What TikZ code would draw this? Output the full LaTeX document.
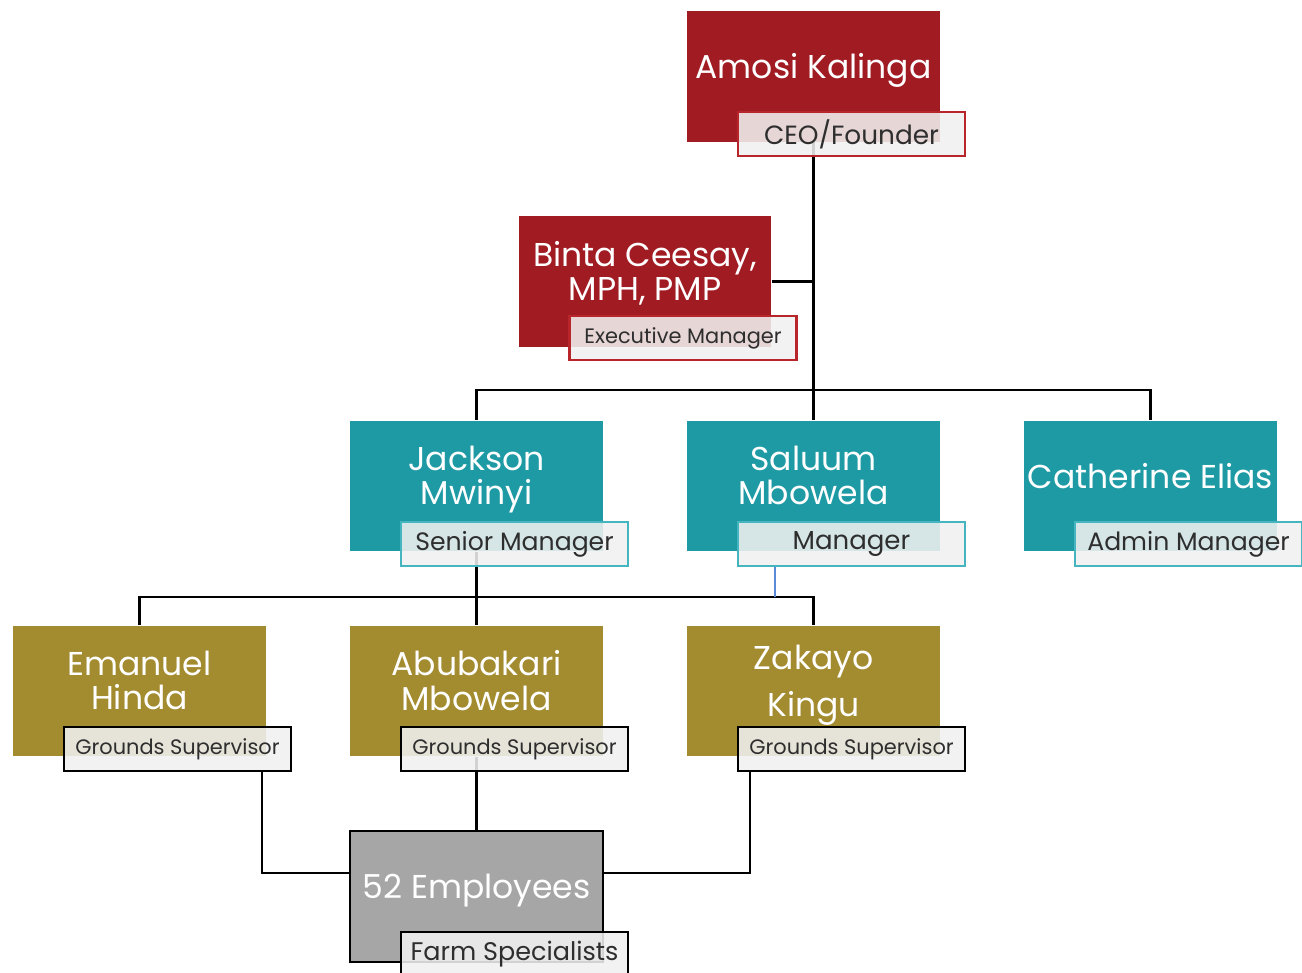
\documentclass[tikz,border=0pt]{standalone}
\usepackage{fontspec}
\setmainfont{Poppins}
\usetikzlibrary{backgrounds}

\definecolor{execred}{HTML}{A11B22}
\definecolor{execline}{HTML}{B8262C}
\definecolor{mgrteal}{HTML}{1E9AA5}
\definecolor{mgrline}{HTML}{45B6BF}
\definecolor{superolive}{HTML}{A38B2F}
\definecolor{staffgray}{HTML}{A6A6A6}
\definecolor{rolefill}{HTML}{F0F0F0}
\definecolor{roletext}{HTML}{2E2E2E}
\definecolor{tapblue}{HTML}{5B8BD6}

\tikzstyle{person} = [rectangle, minimum width=5.06cm, minimum height=2.62cm,
  inner sep=0pt, text=white, align=center, text depth=0.42cm,
  font=\fontsize{18.8}{19.5}\selectfont]
\tikzstyle{exec} = [person, fill=execred]
\tikzstyle{mgr} = [person, fill=mgrteal]
\tikzstyle{super} = [person, fill=superolive]
\tikzstyle{staff} = [person, fill=staffgray, draw=black, line width=1.2pt]
\tikzstyle{role} = [rectangle, minimum width=4.54cm, minimum height=0.88cm,
  inner sep=0pt, fill=rolefill, fill opacity=0.88, text opacity=1,
  text=roletext, line width=1.2pt, font=\fontsize{11.9}{14}\selectfont]
\tikzstyle{bigrole} = [role, font=\fontsize{14.3}{16}\selectfont]
\tikzstyle{execrole} = [role, draw=execline]
\tikzstyle{mgrrole} = [bigrole, draw=mgrline]
\tikzstyle{superrole} = [role, draw=black]

\tikzstyle{link} = [draw=black, line width=1.2pt]

\begin{document}
\begin{tikzpicture}[x=0.02cm, y=-0.02cm]
        \useasboundingbox (0,0) rectangle (1302,973);

        \node [exec]      (amosi)         at (813.5, 76.5) {Amosi Kalinga};
        \node [execrole, font=\fontsize{15}{17}\selectfont]
                          (amosirole)     at (851.5,134)   {CEO/Founder};
        \node [exec]      (binta)         at (645,281.5)   {Binta Ceesay,\\MPH, PMP};
        \node [execrole]  (bintarole)     at (683,338)     {Executive Manager};

        \node [mgr]       (jackson)       at (476.5,486)   {Jackson\\Mwinyi};
        \node [mgrrole]   (jacksonrole)   at (514.5,544)   {Senior Manager};
        \node [mgr]       (saluum)        at (813.5,486)   {Saluum\\Mbowela};
        \node [mgrrole, font=\fontsize{14.8}{16}\selectfont]
                          (saluumrole)    at (851.5,544)   {Manager};
        \node [mgr]       (catherine)     at (1150.5,486)  {Catherine Elias};
        \node [mgrrole]   (catherinerole) at (1188.5,544)  {Admin Manager};

        \node [super]     (emanuel)       at (139.5,691)   {Emanuel\\Hinda};
        \node [superrole] (emanuelrole)   at (177.5,749)   {Grounds Supervisor};
        \node [super]     (abubakari)     at (476.5,691)   {Abubakari\\Mbowela};
        \node [superrole] (abubakarirole) at (514.5,749)   {Grounds Supervisor};
        \node [super]     (zakayo)        at (813.5,691)   {Zakayo\\[0.26cm]Kingu};
        \node [superrole] (zakayorole)    at (851.5,749)   {Grounds Supervisor};

        \node [staff]     (staff)         at (476.5,896.5) {52 Employees};
        \node [superrole, font=\fontsize{14.5}{16}\selectfont]
                          (staffrole)     at (514.5,954)   {Farm Specialists};

        \coordinate (tap)       at (775,597);
        \coordinate (leftbend)  at (262,873);
        \coordinate (rightbend) at (750,873);

        \begin{scope}[on background layer]
          \draw [link] (amosi) -- (saluum);
          \draw [link] (binta) -- (binta -| amosi);
          \draw [link] (jackson.north) -- ++(0,-30) -| (catherine.north);
          \draw [link] (jackson) -- (abubakari);
          \draw [link] (emanuel.north) -- ++(0,-28) -| (zakayo.north);
          \draw [link, draw=tapblue] (saluumrole.south -| tap) -- (tap);
          \draw [link] (emanuelrole.south -| leftbend) -- (leftbend) -- (leftbend -| staff.west);
          \draw [link] (abubakari) -- (staff);
          \draw [link] (zakayorole.south -| rightbend) -- (rightbend) -- (rightbend -| staff.east);
        \end{scope}
      \end{tikzpicture}
\end{document}
